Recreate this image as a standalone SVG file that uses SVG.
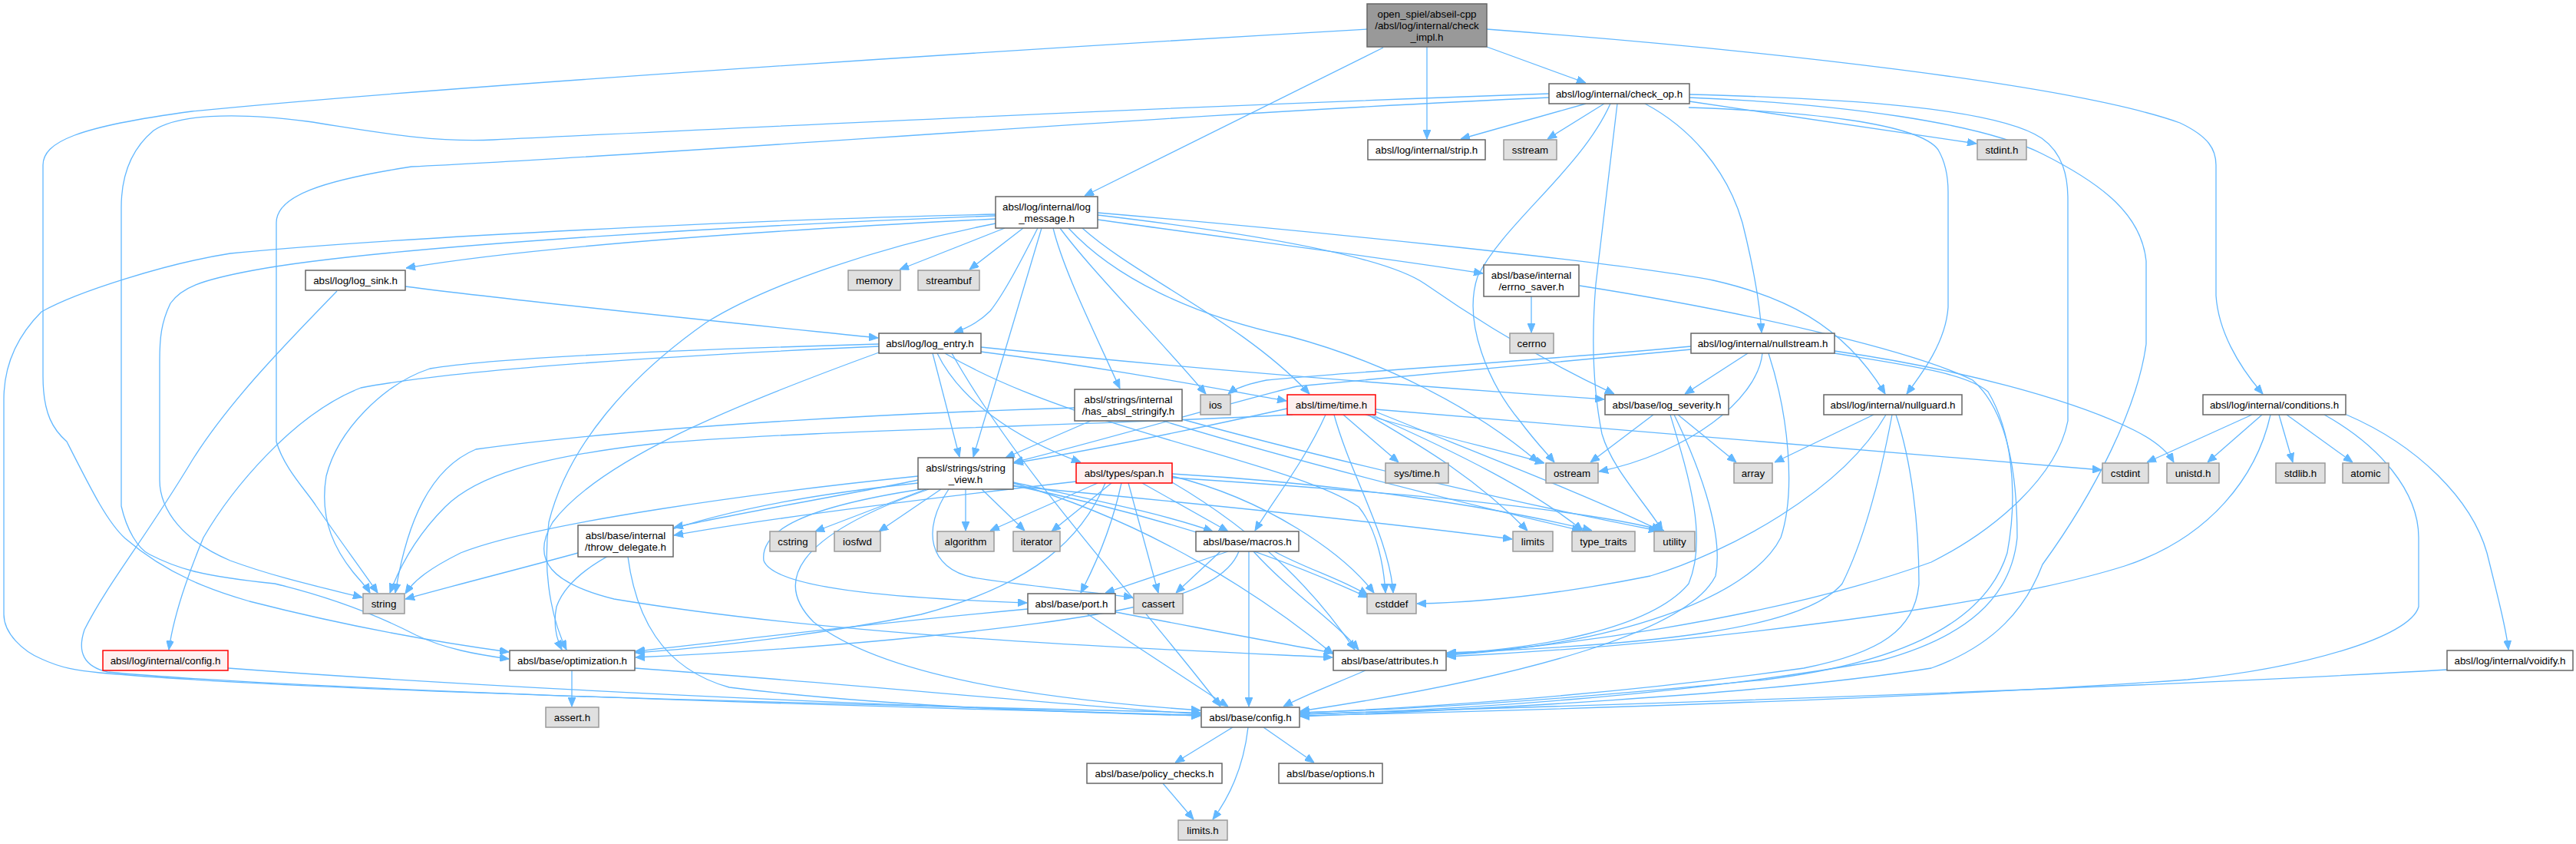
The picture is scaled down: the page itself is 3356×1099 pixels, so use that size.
<svg xmlns="http://www.w3.org/2000/svg" width="3356" height="1099" viewBox="0 0 3356 1099">
<defs>
<marker id="arr" markerWidth="12" markerHeight="10" refX="12" refY="5" orient="auto" markerUnits="userSpaceOnUse"><path d="M0,0 L12,5 L0,10 z" fill="#63b8ff" stroke="#63b8ff" stroke-width="1"/></marker>
<style>
.edges path{fill:none;stroke:#63b8ff;stroke-width:1.3;marker-end:url(#arr)}
.node rect{fill:#ffffff;stroke:#666666;stroke-width:1.5}
.node.ext rect{fill:#e0e0e0;stroke:#999999}
.node.trunc rect{fill:#fff0f0;stroke:#ff0000}
.node.root rect{fill:#999999;stroke:#666666}
.node text{font-family:"Liberation Sans",Arial,sans-serif;font-size:13.33px;fill:#000000;text-anchor:middle}
</style>
</defs>
<rect x="0" y="0" width="3356" height="1099" fill="#ffffff"/>
<g id="edges" class="edges">
<path d="M1937,61 L2066,108"/>
<path d="M1859,61 L1859,181"/>
<path d="M1802,62 L1413,255"/>
<path d="M1781,38 C1400,60 600,110 250,145 C100,165 56,185 56,215 L56,490 C56,540 70,560 87,575 C120,640 140,680 163,701 C220,750 280,770 325,783 C450,815 560,835 663,849"/>
<path d="M1937,38 C2300,65 2700,110 2840,160 C2878,178 2887,195 2887,215 L2887,385 C2890,430 2915,475 2948,513"/>
<path d="M2066,135 L1903,181"/>
<path d="M2090,135 L2016,181"/>
<path d="M2201,132 L2575,187"/>
<path d="M2018,122 C1500,140 1000,165 643,182 C560,186 480,170 400,158 C300,145 230,150 200,170 C170,195 158,230 158,270 L158,659 C165,690 180,715 195,722 C230,740 260,750 358,760 C420,775 480,795 542,827 C580,845 620,852 663,858"/>
<path d="M2018,127 C1500,150 900,200 536,217 C420,235 360,255 360,290 L360,575 C370,610 400,640 412,659 C440,700 470,740 492,772"/>
<path d="M2098,135 C2060,220 1960,290 1925,360 C1905,420 1940,500 1980,548 C2000,575 2015,590 2025,602"/>
<path d="M2107,135 L2079,370 C2074,430 2074,500 2087,565 C2100,610 2140,650 2166,691"/>
<path d="M2143,135 C2200,165 2250,220 2270,290 C2285,350 2293,400 2295,433"/>
<path d="M2200,140 C2350,145 2500,160 2525,195 C2535,212 2538,230 2538,250 L2538,400 C2535,445 2505,485 2484,513"/>
<path d="M2201,123 C2400,128 2600,140 2660,180 C2688,200 2694,230 2694,260 L2694,548 C2680,620 2600,690 2516,732 C2300,810 2000,845 1885,852"/>
<path d="M2200,127 C2400,135 2580,160 2660,200 C2740,240 2790,280 2796,340 L2796,448 C2785,530 2730,640 2661,735 C2640,790 2600,840 2516,870 C2300,905 1900,925 1694,933"/>
<path d="M1297,279 C1000,285 500,310 300,330 C217,343 100,380 54,406 C20,440 5,480 5,520 L5,800 C5,825 30,848 54,858 C80,870 100,873 130,876 C400,900 1000,915 1564,928"/>
<path d="M1297,281 C1000,292 500,320 330,352 C260,365 236,375 222,395 C210,420 208,440 208,470 L208,625 C208,665 240,705 300,730 C360,752 420,765 472,778"/>
<path d="M1297,285 C1000,300 700,320 529,349"/>
<path d="M1309,297 L1172,351"/>
<path d="M1333,297 L1263,351"/>
<path d="M1352,297 C1335,330 1310,380 1290,405 C1275,420 1258,428 1243,433"/>
<path d="M1357,297 L1268,595"/>
<path d="M1372,297 C1385,350 1420,420 1459,506"/>
<path d="M1381,297 C1420,350 1500,430 1571,513"/>
<path d="M1392,297 C1450,360 1550,410 1680,438 C1800,470 1920,530 2004,602"/>
<path d="M1410,297 C1480,360 1620,420 1706,513"/>
<path d="M1430,286 C1600,310 1800,335 1932,356"/>
<path d="M1430,280 C1600,300 1800,330 1857,370 C1900,400 1990,460 2103,513"/>
<path d="M1430,277 C1700,300 2100,340 2232,365 C2320,385 2400,420 2456,513"/>
<path d="M1297,291 C1150,320 1000,370 920,420 C820,490 740,580 715,680 C705,760 725,820 738,846"/>
<path d="M528,373 C700,395 950,420 1144,440"/>
<path d="M439,379 C380,440 300,520 250,600 C190,700 140,760 110,820 C100,850 110,868 140,875 C400,900 1300,925 1564,931"/>
<path d="M1278,452 C1500,475 1800,500 2090,520"/>
<path d="M1278,458 C1450,480 1580,505 1676,522"/>
<path d="M1215,460 L1250,595"/>
<path d="M1221,460 C1250,520 1320,570 1408,602"/>
<path d="M1145,448 C900,455 650,465 560,480 C500,500 440,560 425,620 C415,680 440,720 460,745 C470,757 478,765 482,772"/>
<path d="M1145,451 C900,462 600,480 470,505 C380,540 300,640 265,700 C240,760 225,810 220,846"/>
<path d="M1231,460 C1400,560 1680,600 1770,660 C1795,690 1803,740 1805,772"/>
<path d="M1145,459 C950,530 780,600 720,680 C690,730 720,760 800,780 C1100,830 1500,845 1736,856"/>
<path d="M1240,460 C1330,620 1500,800 1590,920"/>
<path d="M1995,386 L1995,433"/>
<path d="M2058,372 C2300,410 2500,460 2570,495 C2610,530 2628,600 2628,700 C2620,780 2560,830 2450,860 C2200,905 1900,925 1694,930"/>
<path d="M2277,460 L2195,513"/>
<path d="M2296,460 C2290,520 2200,590 2083,614"/>
<path d="M2203,451 C2000,470 1750,485 1650,495 C1625,500 1610,505 1600,513"/>
<path d="M2203,455 C2000,475 1800,492 1690,503 C1600,525 1450,570 1321,602"/>
<path d="M2390,457 C2550,480 2700,520 2780,560 C2810,575 2825,590 2832,602"/>
<path d="M2304,460 C2330,540 2340,640 2320,700 C2280,780 2100,840 1885,853"/>
<path d="M2390,460 C2480,475 2560,485 2590,510 C2620,560 2630,640 2615,720 C2590,800 2500,860 2300,885 C2000,915 1800,925 1694,928"/>
<path d="M2441,540 L2312,602"/>
<path d="M2457,540 C2400,640 2250,720 2150,750 C2000,780 1900,785 1846,786"/>
<path d="M2465,540 C2450,620 2430,700 2400,760 C2350,820 2150,840 1885,850"/>
<path d="M2470,540 C2490,600 2500,680 2500,760 C2495,820 2450,850 2350,870 C2100,905 1850,922 1694,928"/>
<path d="M2154,540 L2072,602"/>
<path d="M2186,540 L2262,602"/>
<path d="M2176,540 C2200,620 2225,700 2200,760 C2150,820 2000,845 1885,851"/>
<path d="M2181,540 C2220,620 2245,700 2235,750 C2200,820 2000,880 1694,926"/>
<path d="M2934,540 L2797,602"/>
<path d="M2947,540 L2876,602"/>
<path d="M2969,540 L2987,602"/>
<path d="M2979,540 L3065,602"/>
<path d="M2958,540 C2940,620 2880,700 2768,737 C2600,790 2200,840 1885,855"/>
<path d="M3028,540 C3100,580 3151,640 3151,700 L3151,790 C3140,830 3000,870 2850,885 C2500,910 2000,925 1694,932"/>
<path d="M3057,540 C3150,580 3220,650 3240,720 C3255,780 3265,820 3268,846"/>
<path d="M3188,872 C2800,895 2200,915 1694,930"/>
<path d="M1750,540 L1822,602"/>
<path d="M1779,540 C1880,570 1950,585 2012,603"/>
<path d="M1782,540 C1850,580 1920,620 1990,691"/>
<path d="M1787,540 C1900,590 2000,640 2062,691"/>
<path d="M1792,536 C1950,600 2080,650 2163,691"/>
<path d="M1792,533 L2738,612"/>
<path d="M1677,532 C1550,560 1430,585 1321,603"/>
<path d="M1727,540 C1700,600 1660,650 1635,691"/>
<path d="M1738,540 C1760,620 1810,700 1815,772"/>
<path d="M1684,540 C1400,555 1050,560 850,578 C700,595 620,620 580,660 C540,700 520,740 508,772"/>
<path d="M1430,629 L1290,691"/>
<path d="M1448,629 L1370,692"/>
<path d="M1488,629 L1600,692"/>
<path d="M1461,629 C1450,680 1430,730 1408,772"/>
<path d="M1470,629 L1509,772"/>
<path d="M1527,617 C1750,630 1950,660 2074,691"/>
<path d="M1527,622 C1800,640 2050,660 2168,691"/>
<path d="M1527,620 C1650,650 1750,720 1790,772"/>
<path d="M1527,628 C1650,700 1720,780 1765,846"/>
<path d="M1402,627 C1200,650 1000,675 878,697"/>
<path d="M1440,629 C1410,700 1350,760 1200,800 C1050,830 900,845 828,850"/>
<path d="M1258,637 L1258,691"/>
<path d="M1279,637 L1335,691"/>
<path d="M1206,637 L1062,692"/>
<path d="M1226,637 L1145,692"/>
<path d="M1320,628 C1420,650 1520,670 1580,692"/>
<path d="M1196,625 C1100,645 950,670 878,687"/>
<path d="M1196,620 C1000,640 700,680 600,720 C560,740 540,755 528,773"/>
<path d="M1200,637 C1050,660 990,690 995,730 C1010,770 1200,780 1338,785"/>
<path d="M1210,637 C1030,700 1010,760 1060,810 C1150,880 1350,910 1564,925"/>
<path d="M1236,637 C1200,690 1210,740 1268,752 C1350,765 1420,770 1476,778"/>
<path d="M1320,633 C1500,650 1800,680 1970,702"/>
<path d="M1320,632 C1550,680 1700,740 1782,778"/>
<path d="M1320,629 C1500,680 1650,780 1737,852"/>
<path d="M1196,629 C900,660 750,720 725,790 C720,815 725,832 732,846"/>
<path d="M1421,548 L1310,596"/>
<path d="M1400,531 C1100,540 800,560 620,585 C560,610 530,680 515,772"/>
<path d="M1515,548 C1620,580 1800,630 2060,691"/>
<path d="M1540,546 C1700,590 1950,650 2160,691"/>
<path d="M753,720 C680,740 600,760 528,780"/>
<path d="M818,725 C828,800 860,870 950,895 C1150,920 1400,928 1564,932"/>
<path d="M1590,718 L1532,772"/>
<path d="M1600,718 L1440,772"/>
<path d="M1660,718 C1700,740 1750,755 1782,775"/>
<path d="M1633,718 C1680,770 1740,810 1770,846"/>
<path d="M1627,718 L1627,920"/>
<path d="M1614,718 C1590,780 1450,805 1161,833 C1000,848 900,853 828,856"/>
<path d="M1453,797 C1550,815 1650,835 1737,850"/>
<path d="M1416,799 L1600,920"/>
<path d="M1339,793 C1100,815 950,835 828,848"/>
<path d="M745,873 L745,920"/>
<path d="M827,870 C1100,890 1350,915 1564,930"/>
<path d="M1779,873 C1740,890 1700,905 1672,920"/>
<path d="M1606,947 L1531,993"/>
<path d="M1626,947 C1620,1000 1600,1040 1580,1067"/>
<path d="M1646,947 L1712,993"/>
<path d="M1515,1020 L1555,1067"/>
<path d="M297,870 C700,900 1200,920 1564,932"/>
</g>
<g id="nodes">
<g id="n_root" class="node root"><rect x="1781" y="5" width="156" height="56"/><text x="1859" y="23">open_spiel/abseil-cpp</text><text x="1859" y="38">/absl/log/internal/check</text><text x="1859" y="53">_impl.h</text></g>
<g id="n_check_op" class="node"><rect x="2018" y="109" width="183" height="26"/><text x="2109.5" y="127">absl/log/internal/check_op.h</text></g>
<g id="n_strip" class="node"><rect x="1782" y="182" width="153" height="26"/><text x="1858.5" y="200">absl/log/internal/strip.h</text></g>
<g id="n_sstream" class="node ext"><rect x="1959" y="182" width="69" height="26"/><text x="1993.5" y="200">sstream</text></g>
<g id="n_stdint" class="node ext"><rect x="2576" y="182" width="64" height="26"/><text x="2608" y="200">stdint.h</text></g>
<g id="n_log_message" class="node"><rect x="1297" y="256" width="133" height="41"/><text x="1363.5" y="274">absl/log/internal/log</text><text x="1363.5" y="289">_message.h</text></g>
<g id="n_memory" class="node ext"><rect x="1105" y="352" width="68" height="26"/><text x="1139" y="370">memory</text></g>
<g id="n_streambuf" class="node ext"><rect x="1196" y="352" width="80" height="26"/><text x="1236" y="370">streambuf</text></g>
<g id="n_log_sink" class="node"><rect x="398" y="352" width="130" height="26"/><text x="463" y="370">absl/log/log_sink.h</text></g>
<g id="n_errno_saver" class="node"><rect x="1933" y="345" width="124" height="41"/><text x="1995" y="363">absl/base/internal</text><text x="1995" y="378">/errno_saver.h</text></g>
<g id="n_log_entry" class="node"><rect x="1145" y="434" width="133" height="26"/><text x="1211.5" y="452">absl/log/log_entry.h</text></g>
<g id="n_cerrno" class="node ext"><rect x="1967" y="434" width="57" height="26"/><text x="1995.5" y="452">cerrno</text></g>
<g id="n_nullstream" class="node"><rect x="2203" y="434" width="187" height="26"/><text x="2296.5" y="452">absl/log/internal/nullstream.h</text></g>
<g id="n_has_absl_stringify" class="node"><rect x="1400" y="507" width="140" height="41"/><text x="1470" y="525">absl/strings/internal</text><text x="1470" y="540">/has_absl_stringify.h</text></g>
<g id="n_ios" class="node ext"><rect x="1564" y="514" width="39" height="26"/><text x="1583.5" y="532">ios</text></g>
<g id="n_time" class="node trunc"><rect x="1677" y="514" width="115" height="26"/><text x="1734.5" y="532">absl/time/time.h</text></g>
<g id="n_log_severity" class="node"><rect x="2091" y="514" width="161" height="26"/><text x="2171.5" y="532">absl/base/log_severity.h</text></g>
<g id="n_nullguard" class="node"><rect x="2376" y="514" width="180" height="26"/><text x="2466" y="532">absl/log/internal/nullguard.h</text></g>
<g id="n_conditions" class="node"><rect x="2870" y="514" width="186" height="26"/><text x="2963" y="532">absl/log/internal/conditions.h</text></g>
<g id="n_string_view" class="node"><rect x="1196" y="596" width="124" height="41"/><text x="1258" y="614">absl/strings/string</text><text x="1258" y="629">_view.h</text></g>
<g id="n_span" class="node trunc"><rect x="1402" y="603" width="125" height="26"/><text x="1464.5" y="621">absl/types/span.h</text></g>
<g id="n_sys_time" class="node ext"><rect x="1805" y="603" width="82" height="26"/><text x="1846" y="621">sys/time.h</text></g>
<g id="n_ostream" class="node ext"><rect x="2014" y="603" width="68" height="26"/><text x="2048" y="621">ostream</text></g>
<g id="n_array" class="node ext"><rect x="2259" y="603" width="50" height="26"/><text x="2284" y="621">array</text></g>
<g id="n_cstdint" class="node ext"><rect x="2739" y="603" width="60" height="26"/><text x="2769" y="621">cstdint</text></g>
<g id="n_unistd" class="node ext"><rect x="2823" y="603" width="68" height="26"/><text x="2857" y="621">unistd.h</text></g>
<g id="n_stdlib" class="node ext"><rect x="2965" y="603" width="64" height="26"/><text x="2997" y="621">stdlib.h</text></g>
<g id="n_atomic" class="node ext"><rect x="3052" y="603" width="60" height="26"/><text x="3082" y="621">atomic</text></g>
<g id="n_throw_delegate" class="node"><rect x="753" y="684" width="124" height="41"/><text x="815" y="702">absl/base/internal</text><text x="815" y="717">/throw_delegate.h</text></g>
<g id="n_cstring" class="node ext"><rect x="1003" y="692" width="60" height="26"/><text x="1033" y="710">cstring</text></g>
<g id="n_iosfwd" class="node ext"><rect x="1087" y="692" width="60" height="26"/><text x="1117" y="710">iosfwd</text></g>
<g id="n_algorithm" class="node ext"><rect x="1221" y="692" width="74" height="26"/><text x="1258" y="710">algorithm</text></g>
<g id="n_iterator" class="node ext"><rect x="1320" y="692" width="61" height="26"/><text x="1350.5" y="710">iterator</text></g>
<g id="n_macros" class="node"><rect x="1558" y="692" width="134" height="26"/><text x="1625" y="710">absl/base/macros.h</text></g>
<g id="n_limits" class="node ext"><rect x="1971" y="692" width="52" height="26"/><text x="1997" y="710">limits</text></g>
<g id="n_type_traits" class="node ext"><rect x="2048" y="692" width="82" height="26"/><text x="2089" y="710">type_traits</text></g>
<g id="n_utility" class="node ext"><rect x="2155" y="692" width="53" height="26"/><text x="2181.5" y="710">utility</text></g>
<g id="n_string" class="node ext"><rect x="473" y="773" width="54" height="26"/><text x="500" y="791">string</text></g>
<g id="n_port" class="node"><rect x="1339" y="773" width="114" height="26"/><text x="1396" y="791">absl/base/port.h</text></g>
<g id="n_cassert" class="node ext"><rect x="1477" y="773" width="64" height="26"/><text x="1509" y="791">cassert</text></g>
<g id="n_cstddef" class="node ext"><rect x="1781" y="773" width="64" height="26"/><text x="1813" y="791">cstddef</text></g>
<g id="n_log_config" class="node trunc"><rect x="134" y="847" width="163" height="26"/><text x="215.5" y="865">absl/log/internal/config.h</text></g>
<g id="n_optimization" class="node"><rect x="664" y="847" width="163" height="26"/><text x="745.5" y="865">absl/base/optimization.h</text></g>
<g id="n_attributes" class="node"><rect x="1737" y="847" width="147" height="26"/><text x="1810.5" y="865">absl/base/attributes.h</text></g>
<g id="n_voidify" class="node"><rect x="3188" y="847" width="164" height="26"/><text x="3270" y="865">absl/log/internal/voidify.h</text></g>
<g id="n_assert_h" class="node ext"><rect x="711" y="921" width="69" height="26"/><text x="745.5" y="939">assert.h</text></g>
<g id="n_config" class="node"><rect x="1565" y="921" width="128" height="26"/><text x="1629" y="939">absl/base/config.h</text></g>
<g id="n_policy_checks" class="node"><rect x="1416" y="994" width="176" height="26"/><text x="1504" y="1012">absl/base/policy_checks.h</text></g>
<g id="n_options" class="node"><rect x="1666" y="994" width="135" height="26"/><text x="1733.5" y="1012">absl/base/options.h</text></g>
<g id="n_limits_h" class="node ext"><rect x="1535" y="1068" width="64" height="26"/><text x="1567" y="1086">limits.h</text></g>
</g>
</svg>
